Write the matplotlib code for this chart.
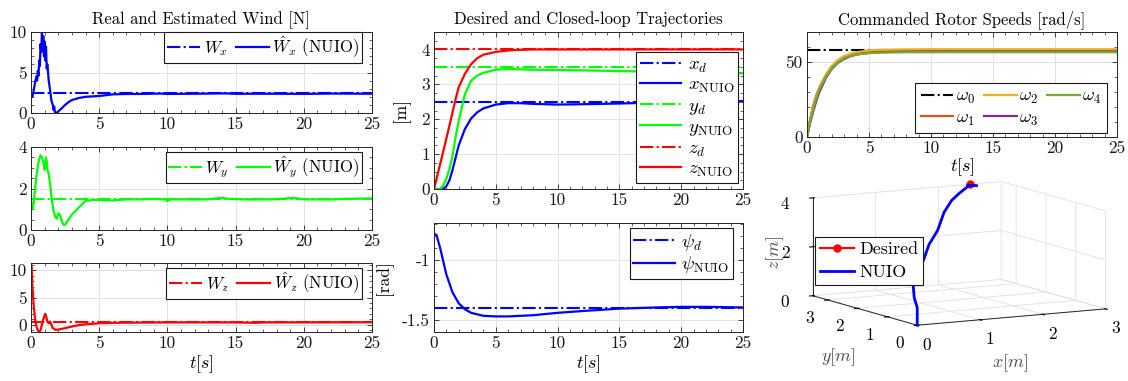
import numpy as np
import matplotlib
matplotlib.use('Agg')
import matplotlib.pyplot as plt
from matplotlib.ticker import MultipleLocator, FormatStrFormatter

# ---------------- data ----------------
# Wind x
t_wx = [0, 0.1, 0.2, 0.3, 0.4, 0.45, 0.5, 0.55, 0.6, 0.65, 0.7, 0.75, 0.8, 0.85, 0.9, 0.95, 1.0, 1.05,
        1.1, 1.15, 1.2, 1.3, 1.4, 1.5, 1.6, 1.65, 1.7, 1.75, 1.8, 1.9, 2.0, 2.2, 2.5, 2.8, 3.0, 3.5, 4.0,
        4.5, 5.0, 5.5, 6.0, 7, 8, 9.5, 10, 12, 14.2, 15, 17, 20, 22, 25]
wx_est = [2.2, 2.0, 2.8, 3.8, 4.5, 4.0, 5.2, 4.6, 6.5, 5.8, 8.5, 7.5, 10.0, 8.0, 9.5, 7.0, 8.8, 6.5,
          8.2, 5.5, 6.0, 4.0, 2.8, 1.5, 1.0, 0.4, 0.8, 0.1, 0.0, 0.05, 0.2, 0.5, 1.0, 1.4, 1.6, 1.85, 2.0,
          2.05, 2.1, 2.2, 2.3, 2.35, 2.35, 2.4, 2.35, 2.38, 2.42, 2.37, 2.38, 2.36, 2.4, 2.38]
wx_real = 2.5

# Wind y
t_wy = [0, 0.05, 0.1, 0.2, 0.3, 0.4, 0.5, 0.6, 0.7, 0.8, 0.9, 1.0, 1.05, 1.1, 1.15, 1.2, 1.3, 1.4, 1.5,
        1.6, 1.7, 1.8, 1.9, 2.0, 2.1, 2.2, 2.3, 2.4, 2.5, 2.6, 2.8, 3.0, 3.3, 3.6, 4.0, 4.5, 5, 6, 7, 8,
        9, 9.8, 10, 10.3, 12, 13, 14, 14.5, 16, 18, 19.2, 20, 22, 23, 25]
wy_est = [1.5, 1.1, 1.0, 1.3, 2.0, 2.6, 3.1, 3.4, 3.6, 3.5, 3.3, 2.9, 3.1, 3.5, 3.3, 2.9, 2.7, 2.2, 1.6,
          1.1, 0.8, 0.6, 0.55, 0.8, 0.75, 0.55, 0.35, 0.25, 0.25, 0.35, 0.55, 0.75, 0.95, 1.15, 1.4, 1.45,
          1.45, 1.42, 1.48, 1.48, 1.5, 1.48, 1.4, 1.48, 1.47, 1.48, 1.55, 1.5, 1.47, 1.48, 1.55, 1.48,
          1.47, 1.5, 1.52]
wy_real = 1.5

# Wind z
t_wz = [0, 0.05, 0.1, 0.2, 0.3, 0.4, 0.5, 0.6, 0.7, 0.8, 0.9, 1.0, 1.05, 1.1, 1.2, 1.3, 1.4, 1.5, 1.6,
        1.8, 2.0, 2.5, 3.0, 3.5, 4.0, 5.0, 6, 8, 10, 15, 16.5, 17, 20, 25]
wz_est = [11.3, 10.5, 7.0, 3.5, 1.0, -0.3, -1.0, -1.2, -1.0, 0.0, 1.0, 1.8, 2.0, 1.7, 0.6, 0.3, 0.6,
          0.0, -0.6, -0.9, -0.85, -0.6, -0.3, -0.05, 0.1, 0.3, 0.38, 0.42, 0.45, 0.45, 0.38, 0.45, 0.46,
          0.48]
wz_real = 0.45

# Trajectories
t_tr = [0, 0.25, 0.5, 0.75, 1, 1.25, 1.5, 1.75, 2, 2.5, 3, 3.5, 4, 5, 6, 7, 8, 10, 12, 15, 18, 20, 22, 25]
x_nuio = [0, 0, 0, 0, 0.08, 0.25, 0.55, 0.9, 1.25, 1.72, 2.02, 2.2, 2.31, 2.42, 2.46, 2.46, 2.44, 2.42,
          2.43, 2.45, 2.48, 2.5, 2.51, 2.52]
y_nuio = [0, 0, 0, 0.1, 0.3, 0.57, 0.95, 1.5, 1.95, 2.72, 3.1, 3.25, 3.33, 3.42, 3.44, 3.43, 3.42, 3.41,
          3.4, 3.38, 3.36, 3.35, 3.34, 3.32]
z_nuio = [0, 0.36, 0.72, 1.08, 1.45, 1.82, 2.2, 2.58, 2.92, 3.3, 3.58, 3.75, 3.85, 3.93, 3.97, 3.99, 4.0,
          4.0, 4.0, 4.0, 4.0, 4.0, 4.0, 4.0]
x_d, y_d, z_d = 2.5, 3.5, 4.0

# Yaw
t_psi = [0, 0.2, 0.5, 1, 1.5, 2, 2.5, 3, 4, 5, 6, 8, 10, 12, 15, 18, 20, 22, 25]
psi_nuio = [-0.78, -0.79, -0.9, -1.12, -1.27, -1.36, -1.41, -1.44, -1.465, -1.47, -1.47, -1.46, -1.44,
            -1.425, -1.405, -1.395, -1.39, -1.39, -1.395]
psi_d = -1.4

# Rotor speeds
t_w = [0, 0.25, 0.5, 0.75, 1, 1.5, 2, 2.5, 3, 3.5, 4, 5, 6, 8, 10, 15, 20, 25]
w1 = [0, 12, 21, 28, 33, 41, 47, 50.5, 53, 54.8, 55.8, 57, 57.5, 57.7, 57.8, 57.8, 57.8, 57.8]
w2 = [0, 11, 20, 27, 33, 41.5, 47.5, 51.5, 54, 55.5, 56.5, 57.8, 58.2, 58.4, 58.5, 58.5, 58.5, 58.5]
w3 = [0, 9, 17, 24, 30, 39, 45.5, 49.5, 52, 53.8, 55, 56, 56.5, 56.8, 56.9, 56.9, 56.9, 56.9]
w4 = [0, 10, 19, 26, 32, 40, 46, 50, 52.5, 54, 55, 56, 56.3, 56.5, 56.5, 56.5, 56.5, 56.5]
w0 = 57.8

# ---------------- style ----------------
plt.rcParams.update({
    'font.family': 'serif', 'font.serif': ['cmr10'], 'mathtext.fontset': 'cm',
    'axes.unicode_minus': False, 'font.size': 12.5, 'axes.formatter.use_mathtext': False,
})
AX = '0.15'
BLUE, GREEN, RED = '#0000ff', '#00ff00', '#ff0000'
C1, C2, C3, C4 = '#d95319', '#edb120', '#7e2f8e', '#77ac30'
TS = 12.5   # tick label size

fig = plt.figure(figsize=(11.28, 3.81), dpi=100)
W, H = 1128, 381


def add(x0, y0, x1, y1, **kw):
    return fig.add_axes([x0 / W, 1 - y1 / H, (x1 - x0) / W, (y1 - y0) / H], **kw)


def style(ax, ymaj, ymin):
    ax.set_xlim(0, 25)
    ax.xaxis.set_major_locator(MultipleLocator(5))
    ax.xaxis.set_minor_locator(MultipleLocator(1))
    ax.yaxis.set_major_locator(MultipleLocator(ymaj))
    ax.yaxis.set_minor_locator(MultipleLocator(ymin))
    ax.grid(True, which='major', color='0.87', lw=0.6)
    ax.set_axisbelow(True)
    ax.tick_params(which='both', direction='in', top=True, right=True, colors=AX,
                   labelcolor='0.1', labelsize=TS, pad=3)
    ax.tick_params(which='major', length=3.5, width=0.6)
    ax.tick_params(which='minor', length=2, width=0.5)
    for s in ax.spines.values():
        s.set_color(AX)
        s.set_linewidth(0.7)


def leg(ax, loc, px, py, fontsize=12, **kw):
    base = dict(fancybox=False, framealpha=1, edgecolor='0.1', fontsize=fontsize,
                borderaxespad=0, handletextpad=0.2, borderpad=0.15, loc=loc,
                bbox_to_anchor=(px / W, 1 - py / H), bbox_transform=fig.transFigure)
    base.update(kw)
    l = ax.legend(**base)
    l.get_frame().set_linewidth(0.8)
    return l


# Wind x
ax = add(31, 32, 372, 113)
ax.axhline(wx_real, color=BLUE, ls='-.', lw=1.5, label='$W_x$')
ax.plot(t_wx, wx_est, color=BLUE, lw=1.6, label=r'$\hat{W}_x$ (NUIO)')
ax.set_ylim(0, 10)
style(ax, 5, 1)
ax.set_title('Real and Estimated Wind [N]', fontsize=12, pad=6)
leg(ax, 'upper right', 362, 32, ncol=2, columnspacing=0.5, handlelength=2.0)

# Wind y
ax = add(31, 147, 372, 230)
ax.axhline(wy_real, color=GREEN, ls='-.', lw=1.5, label='$W_y$')
ax.plot(t_wy, wy_est, color=GREEN, lw=1.6, label=r'$\hat{W}_y$ (NUIO)')
ax.set_ylim(0, 4)
style(ax, 2, 0.5)
leg(ax, 'upper right', 362, 152, ncol=2, columnspacing=0.5, handlelength=2.0)

# Wind z
ax = add(31, 263, 372, 332)
ax.axhline(wz_real, color=RED, ls='-.', lw=1.5, label='$W_z$')
ax.plot(t_wz, wz_est, color=RED, lw=1.6, label=r'$\hat{W}_z$ (NUIO)')
ax.set_ylim(-1.3, 11.3)
style(ax, 5, 1)
ax.set_xlabel('$t[s]$', fontsize=13, labelpad=1)
leg(ax, 'upper right', 362, 268, ncol=2, columnspacing=0.5, handlelength=2.0)

# Trajectories
ax = add(434, 32, 743, 189)
ax.axhline(x_d, color=BLUE, ls='-.', lw=1.5, label='$x_d$')
ax.plot(t_tr, x_nuio, color=BLUE, lw=1.6, label=r'$x_{\rm NUIO}$')
ax.axhline(y_d, color=GREEN, ls='-.', lw=1.5, label='$y_d$')
ax.plot(t_tr, y_nuio, color=GREEN, lw=1.6, label=r'$y_{\rm NUIO}$')
ax.axhline(z_d, color=RED, ls='-.', lw=1.5, label='$z_d$')
ax.plot(t_tr, z_nuio, color=RED, lw=1.6, label=r'$z_{\rm NUIO}$')
ax.set_ylim(0, 4.5)
style(ax, 1, 0.25)
ax.set_ylabel('[m]', fontsize=12.5, labelpad=8)
ax.set_title('Desired and Closed-loop Trajectories', fontsize=12, pad=6)
leg(ax, 'lower right', 738, 183, fontsize=13.5, handletextpad=0.35, borderpad=0.2,
    labelspacing=0.08, handlelength=2.2)

# Yaw
ax = add(434, 223, 743, 332)
ax.axhline(psi_d, color=BLUE, ls='-.', lw=1.5, label=r'$\psi_d$')
ax.plot(t_psi, psi_nuio, color=BLUE, lw=1.6, label=r'$\psi_{\rm NUIO}$')
ax.set_ylim(-1.6, -0.69)
style(ax, 0.5, 0.1)
ax.yaxis.set_major_formatter(FormatStrFormatter('%g'))
ax.set_ylabel('[rad]', fontsize=12.5, labelpad=6)
ax.set_xlabel('$t[s]$', fontsize=13, labelpad=1)
leg(ax, 'upper right', 733, 228, fontsize=13.5, handletextpad=0.35, borderpad=0.2,
    labelspacing=0.08, handlelength=2.2)

# Rotor speeds
ax = add(807, 32, 1117, 137)
ax.axhline(w0, xmax=0.5, color='k', ls='-.', lw=1.5, label=r'$\omega_0$', zorder=1)
ax.plot(t_w, w1, color=C1, lw=1.6, label=r'$\omega_1$')
ax.plot(t_w, w2, color=C2, lw=1.6, label=r'$\omega_2$')
ax.plot(t_w, w3, color=C3, lw=1.6, label=r'$\omega_3$')
ax.plot(t_w, w4, color=C4, lw=1.6, label=r'$\omega_4$')
ax.set_ylim(0, 70)
style(ax, 50, 10)
ax.set_xlabel('$t[s]$', fontsize=13, labelpad=0)
ax.set_title('Commanded Rotor Speeds [rad/s]', fontsize=12, pad=6)
leg(ax, 'lower right', 1107, 133, fontsize=13, ncol=3, columnspacing=0.5, labelspacing=0.2,
    handlelength=1.8, borderpad=0.3, handletextpad=0.15)

# 3D trajectory
ax3 = fig.add_axes([0.693, 0.068, 0.31, 0.52], projection='3d')
ax3.patch.set_alpha(0)
ax3.set_proj_type('ortho')
ax3.plot([x_d], [y_d], [z_d], color=RED, marker='o', ms=5, lw=1.6, label='Desired')
ax3.plot(x_nuio, y_nuio, z_nuio, color=BLUE, lw=2, label='NUIO')
ax3.set_xlim(0, 3)
ax3.set_ylim(0, 3.5)
ax3.set_zlim(0, 4)
ax3.set_xticks([0, 1, 2, 3])
ax3.set_yticks([0, 1, 2, 3])
ax3.set_zticks([0, 2, 4])
ax3.set_box_aspect((1, 1, 0.46), zoom=1.57)
ax3.view_init(elev=9, azim=-119)
for a in (ax3.xaxis, ax3.yaxis, ax3.zaxis):
    a.set_pane_color((1, 1, 1, 0))
    a._axinfo['grid']['color'] = (0.88, 0.88, 0.88, 1)
    a._axinfo['grid']['linewidth'] = 0.6
    a.line.set_color(AX)
    a.line.set_linewidth(0.7)
ax3.tick_params(labelsize=TS, pad=-1)
fig.text(775 / W, 1 - 253 / H, '$z[m]$', rotation=90, fontsize=13, color='0.3', ha='center', va='center')
fig.text(838 / W, 1 - 357 / H, '$y[m]$', fontsize=13, color='0.3', ha='center', va='center')
fig.text(1010 / W, 1 - 363 / H, '$x[m]$', fontsize=13, color='0.3', ha='center', va='center')
leg(ax3, 'upper left', 815, 237, fontsize=13, handlelength=1.9, handletextpad=0.3,
    borderpad=0.25, labelspacing=0.4)

fig.savefig('out.png', dpi=100)
